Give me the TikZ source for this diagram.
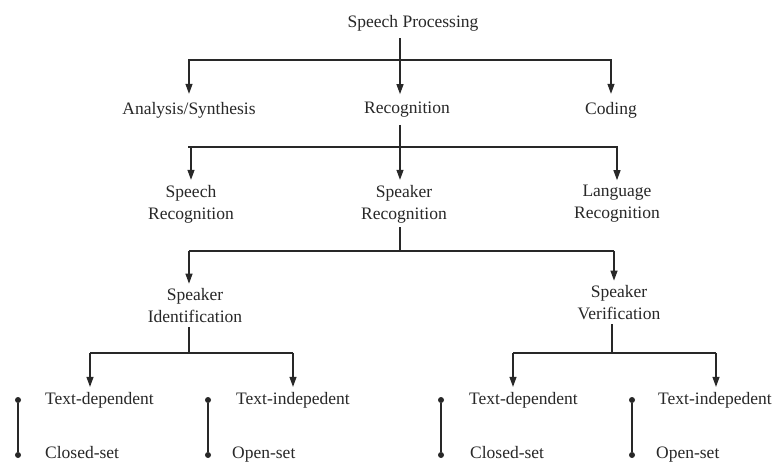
\documentclass[tikz,border=0pt]{standalone}
\usepackage{fontspec}
\setmainfont{Liberation Serif}
\usetikzlibrary{arrows.meta}
\definecolor{ink}{RGB}{40,40,40}
\begin{document}
\begin{tikzpicture}[x=1pt,y=-1pt,
  lbl/.style={font=\fontsize{17.5}{22}\selectfont, text=ink, align=center, inner sep=0pt},
  leaf/.style={lbl, anchor=west},
  conn/.style={draw=ink, line width=1.2pt},
  stem/.style={conn, shorten <=7pt},
  arr/.style={conn, -{Triangle[length=10pt,width=7pt]}, shorten >=5pt},
  dotpt/.style={circle, fill=ink, inner sep=0pt, minimum size=6pt}]
\fill[white] (0,0) rectangle (774,462);
\useasboundingbox (0,0) rectangle (774,462);

% level 0 and 1
\node[lbl] (sp)  at (413,23)  {Speech Processing};
\node[lbl] (as)  at (189,110) {Analysis/Synthesis};
\node[lbl] (rec) at (407,110) {Recognition};
\node[lbl] (cod) at (611,110) {Coding};
\coordinate (b1) at (400,60);
\draw[stem] (sp.south -| b1) -- (b1);
\draw[conn] (as.north |- b1) -- (cod.north |- b1);
\draw[arr, shorten >=8pt] (b1) -| (as.north);
\draw[arr, shorten >=8pt] (b1) -- (rec.north -| b1);
\draw[arr, shorten >=8pt] (b1) -| (cod.north);

% level 2
\node[lbl] (sr)  at (191,204) {Speech\\Recognition};
\node[lbl] (spk) at (404,204) {Speaker\\Recognition};
\node[lbl] (lr)  at (617,204) {Language\\Recognition};
\coordinate (b2) at (400,147);
\draw[stem] (rec.south -| b2) -- (b2);
\draw[conn] (b2 -| 188,0) -- (b2 -| 614,0);
\draw[arr] (b2) -| (sr.north);
\draw[arr] (b2) -- (spk.north -| b2);
\draw[arr] (b2) -| (lr.north);

% level 3
\node[lbl] (sid) at (195,306) {Speaker\\Identification};
\node[lbl] (sve) at (619,303) {Speaker\\Verification};
\coordinate (b3) at (400,251);
\coordinate (c1) at (189,251);
\coordinate (c2) at (614,251);
\draw[stem, shorten <=4pt] (spk.south -| b3) -- (b3);
\draw[conn] (c1) -- (c2);
\draw[arr] (c1) -- (sid.north -| c1);
\draw[arr] (c2) -- (sve.north -| c2);

% level 4, identification side
\node[leaf] (td1) at (45,400)  {Text-dependent};
\node[leaf] (ti1) at (236,400) {Text-indepedent};
\node[leaf] (cs1) at (45,453)  {Closed-set};
\node[leaf] (os1) at (232,455) {Open-set};
\coordinate (b4) at (189,353);
\coordinate (a1) at (90,353);
\coordinate (a2) at (293,353);
\draw[stem, shorten <=4pt] (sid.south -| b4) -- (b4);
\draw[conn] (a1) -- (a2);
\draw[arr] (a1) -- (a1 |- td1.north);
\draw[arr] (a2) -- (a2 |- ti1.north);

% level 4, verification side
\node[leaf] (td2) at (469,400) {Text-dependent};
\node[leaf] (ti2) at (658,400) {Text-indepedent};
\node[leaf] (cs2) at (470,453) {Closed-set};
\node[leaf] (os2) at (656,455) {Open-set};
\coordinate (b5) at (612,353);
\coordinate (a3) at (513,353);
\coordinate (a4) at (716,353);
\draw[stem, shorten <=4pt] (sve.south -| b5) -- (b5);
\draw[conn] (a3) -- (a4);
\draw[arr] (a3) -- (a3 |- td2.north);
\draw[arr] (a4) -- (a4 |- ti2.north);

% bullet pairs
\node[dotpt] (p1) at (18,400)  {};
\node[dotpt] (q1) at (18,455)  {};
\node[dotpt] (p2) at (208,400) {};
\node[dotpt] (q2) at (208,455) {};
\node[dotpt] (p3) at (441,400) {};
\node[dotpt] (q3) at (441,455) {};
\node[dotpt] (p4) at (632,400) {};
\node[dotpt] (q4) at (632,455) {};
\draw[conn] (p1) -- (q1);
\draw[conn] (p2) -- (q2);
\draw[conn] (p3) -- (q3);
\draw[conn] (p4) -- (q4);
\end{tikzpicture}
\end{document}
